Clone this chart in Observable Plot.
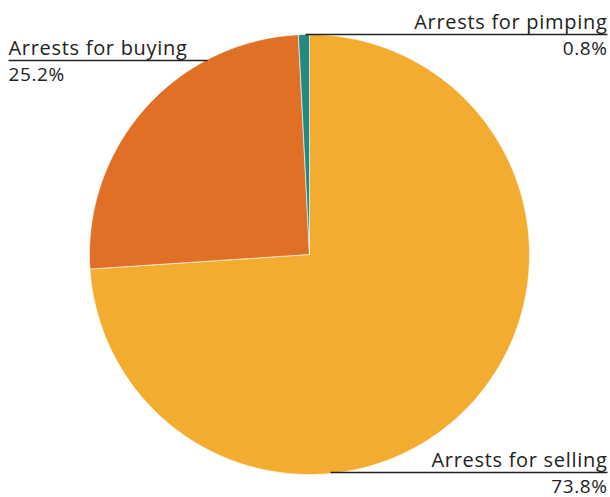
<!DOCTYPE html>
<html><head><meta charset="utf-8">
<script src="https://cdn.jsdelivr.net/npm/d3@7"></script>
<script src="https://cdn.jsdelivr.net/npm/@observablehq/plot@0.6"></script>
<style>body{margin:0;background:#fff;overflow:hidden}
.lbl text{letter-spacing:0.7px}
.pct text{letter-spacing:0.6px}</style>
</head><body><div id="chart"></div>
<script>
// Data
const categories = ["Arrests for selling", "Arrests for buying", "Arrests for pimping"];
const shares = [73.8, 25.2, 0.8];
const percentLabels = ["73.8%", "25.2%", "0.8%"];
const colors = ["#F2AC2F", "#E07026", "#248A80"];

// Layout
const W = 610, H = 497, cx = 309, cy = 254, R = 220;
const leaderY = [472, 60, 34];
const leaderX1 = [330, 8, 305];
const leaderX2 = [607, 207, 607];
const labelX = [607, 8, 607];
const labelAnchor = ["end", "start", "end"];

const arcs = d3.pie().sort(null).value(d => d.value)(
  categories.map((c, i) => ({category: c, value: shares[i]}))
);
const pts = [];
arcs.forEach(a => {
  const cat = a.data.category;
  pts.push({cat, x: cx, y: cy});
  const n = Math.max(4, Math.ceil((a.endAngle - a.startAngle) / 0.01));
  for (let k = 0; k <= n; k++) {
    const t = a.startAngle + (a.endAngle - a.startAngle) * k / n;
    pts.push({cat, x: cx + R * Math.sin(t), y: cy - R * Math.cos(t)});
  }
  pts.push({cat, x: cx, y: cy});
});

const labels = categories.map((c, i) => ({
  cat: c, pct: percentLabels[i], ly: leaderY[i], x1: leaderX1[i], x2: leaderX2[i],
  lx: labelX[i], anchor: labelAnchor[i]
}));

const font = "'Open Sans', Lato, sans-serif";
const chart = Plot.plot({
  width: W, height: H,
  margin: 0,
  x: {domain: [0, W], range: [0, W], axis: null},
  y: {domain: [0, H], range: [0, H], axis: null},
  color: {domain: categories, range: colors},
  style: {fontFamily: font, background: "#fff"},
  marks: [
    Plot.line(pts, {x: "x", y: "y", z: "cat", fill: "cat", stroke: "#fff", strokeWidth: 0.6, curve: "linear"}),
    Plot.link(labels, {x1: "x1", x2: "x2", y1: "ly", y2: "ly", stroke: "#222", strokeWidth: 1.5}),
    ...["start", "end"].map(an => Plot.text(labels.filter(d => d.anchor === an), {
      x: "lx", y: "ly", text: "cat", textAnchor: an, lineAnchor: "bottom", dy: -6,
      fontSize: 20, fill: "#222", fontWeight: 400, className: "lbl"
    })),
    ...["start", "end"].map(an => Plot.text(labels.filter(d => d.anchor === an), {
      x: "lx", y: "ly", text: "pct", textAnchor: an, lineAnchor: "bottom", dy: 20,
      fontSize: 19, fill: "#222", fontWeight: 400, className: "pct"
    }))
  ]
});
document.getElementById("chart").append(chart);
</script>
</body></html>
